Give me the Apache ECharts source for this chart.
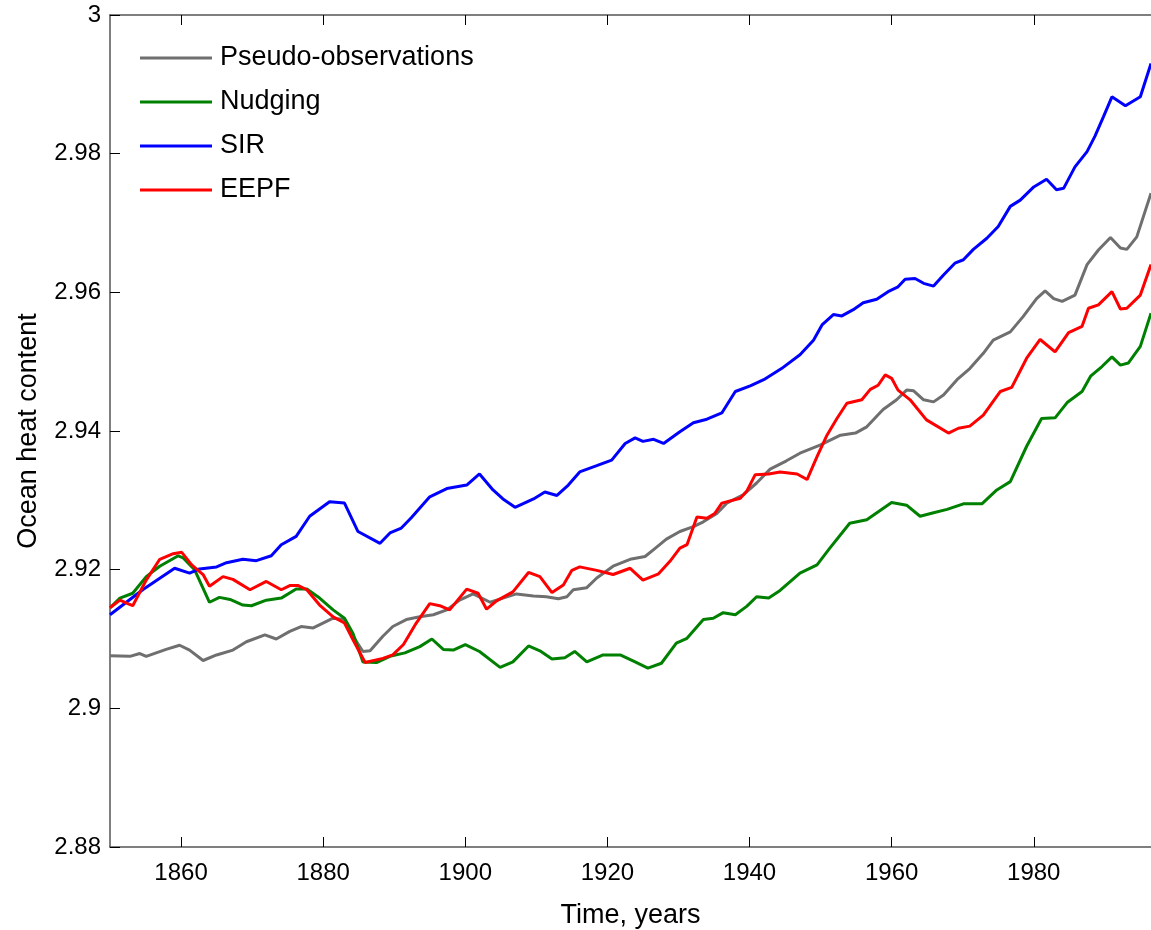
<!DOCTYPE html>
<html>
<head>
<meta charset="utf-8">
<script src="https://cdn.jsdelivr.net/npm/echarts@6/dist/echarts.min.js"></script>
<style>html,body{margin:0;padding:0;background:#fff}#c{width:1151px;height:930px}</style>
</head>
<body>
<div id="c"></div>
<script>
// Tick labels
const xTicks = [1860, 1880, 1900, 1920, 1940, 1960, 1980];
const seriesNames = ['Pseudo-observations', 'Nudging', 'SIR', 'EEPF'];

// [year, ocean heat content]
const pseudoObs = [[1850,2.9076],[1852.8,2.9075],[1854.2,2.9079],[1855.1,2.9075],[1857.9,2.9085],[1859.8,2.9091],[1861.2,2.9084],[1863.1,2.9069],[1865,2.9077],[1867.3,2.9084],[1869.2,2.9096],[1871.8,2.9106],[1873.4,2.9100],[1875.3,2.9111],[1876.9,2.9118],[1878.6,2.9116],[1881.4,2.9130],[1883,2.9128],[1884.2,2.9104],[1885.6,2.9082],[1886.6,2.9083],[1888.4,2.9104],[1889.8,2.9118],[1891.7,2.9128],[1893.6,2.9132],[1895.5,2.9135],[1897.4,2.9142],[1899.2,2.9156],[1901.1,2.9165],[1903.5,2.9153],[1905.3,2.9159],[1907.2,2.9165],[1909.6,2.9162],[1911.4,2.9161],[1913.1,2.9158],[1914.3,2.9161],[1915.2,2.9171],[1917.1,2.9174],[1918.5,2.9188],[1920.8,2.9205],[1923.2,2.9215],[1925.3,2.9219],[1926.5,2.9229],[1928.3,2.9244],[1930.2,2.9255],[1932.1,2.9262],[1933.5,2.9269],[1935.4,2.9281],[1936.8,2.9296],[1939.1,2.9308],[1941,2.9325],[1942.9,2.9345],[1945.2,2.9357],[1947.1,2.9368],[1950,2.9380],[1952.8,2.9394],[1954.9,2.9397],[1956.5,2.9406],[1958.8,2.9431],[1960.7,2.9445],[1962.1,2.9459],[1963.1,2.9458],[1964.5,2.9445],[1965.9,2.9442],[1967.3,2.9452],[1969.2,2.9474],[1971,2.9490],[1972.9,2.9512],[1974.3,2.9531],[1976.7,2.9543],[1978.5,2.9565],[1980.4,2.9591],[1981.6,2.9602],[1982.8,2.9591],[1984,2.9587],[1985.8,2.9596],[1987.5,2.9640],[1989.1,2.9661],[1990.8,2.9679],[1992.2,2.9664],[1993.1,2.9662],[1994.5,2.9680],[1996.5,2.9743]];

const nudging = [[1850,2.9145],[1851.4,2.9159],[1853.2,2.9166],[1855.1,2.9190],[1857,2.9205],[1859.6,2.9220],[1860.3,2.9217],[1861.9,2.9200],[1864,2.9153],[1865.4,2.9160],[1866.9,2.9157],[1868.7,2.9149],[1869.9,2.9148],[1872,2.9156],[1874.1,2.9159],[1876.2,2.9172],[1877.7,2.9172],[1879.5,2.9159],[1881.4,2.9142],[1883,2.9130],[1884.2,2.9108],[1885.6,2.9067],[1887.5,2.9066],[1889.4,2.9075],[1891.5,2.9080],[1893.6,2.9089],[1895.3,2.9100],[1896.9,2.9085],[1898.3,2.9084],[1900,2.9092],[1902,2.9082],[1904.9,2.9059],[1906.7,2.9067],[1908.9,2.9090],[1910.5,2.9083],[1912.2,2.9071],[1914,2.9073],[1915.4,2.9082],[1917.1,2.9067],[1919.4,2.9077],[1921.8,2.9077],[1923.9,2.9067],[1925.7,2.9058],[1927.6,2.9065],[1929.7,2.9094],[1931.2,2.9101],[1933.5,2.9128],[1934.9,2.9130],[1936.3,2.9138],[1938,2.9135],[1939.6,2.9147],[1941,2.9161],[1942.7,2.9159],[1944.3,2.9170],[1947.1,2.9195],[1949.5,2.9207],[1951.3,2.9231],[1954.1,2.9267],[1956.5,2.9272],[1960,2.9297],[1962.1,2.9293],[1964,2.9277],[1965.9,2.9282],[1967.8,2.9287],[1970.1,2.9295],[1972.7,2.9295],[1974.8,2.9315],[1976.7,2.9327],[1979,2.9378],[1981.1,2.9418],[1983,2.9419],[1984.7,2.9441],[1986.8,2.9457],[1988,2.9479],[1989.6,2.9493],[1991,2.9507],[1992.2,2.9495],[1993.3,2.9498],[1995,2.9522],[1996.5,2.9570]];

const sir = [[1850,2.9135],[1854.6,2.9171],[1859.1,2.9202],[1861.2,2.9195],[1862.6,2.9201],[1865,2.9204],[1866.4,2.9210],[1868.7,2.9215],[1870.6,2.9213],[1872.7,2.9220],[1874.1,2.9236],[1876.2,2.9248],[1878.1,2.9277],[1880.9,2.9298],[1883,2.9296],[1884.9,2.9255],[1888,2.9238],[1889.4,2.9253],[1891,2.9260],[1892.4,2.9275],[1895,2.9305],[1897.4,2.9317],[1900.2,2.9322],[1902,2.9338],[1903.9,2.9315],[1905.3,2.9302],[1907,2.9290],[1909.6,2.9302],[1911.2,2.9312],[1912.9,2.9307],[1914.5,2.9322],[1916.1,2.9341],[1918.5,2.9350],[1920.6,2.9358],[1922.5,2.9382],[1923.9,2.9390],[1925,2.9385],[1926.5,2.9388],[1927.9,2.9382],[1930.2,2.9399],[1932.1,2.9412],[1934,2.9417],[1936.1,2.9426],[1938,2.9457],[1940.1,2.9465],[1942,2.9474],[1944.5,2.9490],[1947.1,2.9510],[1949,2.9531],[1950.2,2.9553],[1951.8,2.9568],[1953,2.9566],[1954.6,2.9575],[1956,2.9585],[1957.9,2.9590],[1959.5,2.9601],[1960.9,2.9608],[1961.9,2.9619],[1963.3,2.9620],[1964.5,2.9613],[1965.9,2.9609],[1967.3,2.9625],[1968.9,2.9642],[1970.1,2.9647],[1971.5,2.9662],[1973.4,2.9678],[1975,2.9695],[1976.7,2.9724],[1978.1,2.9733],[1980,2.9752],[1981.8,2.9763],[1983.2,2.9748],[1984.2,2.9750],[1985.8,2.9781],[1987.5,2.9803],[1988.6,2.9825],[1989.8,2.9853],[1991,2.9882],[1992.9,2.9869],[1995,2.9882],[1996.5,2.9930]];

const eepf = [[1850,2.9145],[1851.4,2.9156],[1852.5,2.9151],[1853.2,2.9148],[1855.1,2.9185],[1857,2.9215],[1858.9,2.9223],[1860.1,2.9225],[1861.5,2.9207],[1863.1,2.9193],[1864,2.9176],[1865.9,2.9190],[1867.3,2.9186],[1869.7,2.9171],[1872,2.9183],[1874.1,2.9171],[1875.3,2.9177],[1876.5,2.9177],[1877.7,2.9171],[1879.5,2.9149],[1881.4,2.9132],[1883,2.9123],[1884.2,2.9099],[1885.9,2.9066],[1888.4,2.9072],[1889.8,2.9077],[1891.3,2.9092],[1893.1,2.9123],[1895,2.9151],[1896.4,2.9148],[1897.8,2.9142],[1900.2,2.9172],[1901.8,2.9166],[1903,2.9143],[1904.4,2.9155],[1906.7,2.9168],[1908.9,2.9196],[1910.5,2.9190],[1912.2,2.9167],[1913.8,2.9178],[1915,2.9199],[1916.1,2.9204],[1918.5,2.9199],[1920.8,2.9193],[1923.2,2.9202],[1925,2.9185],[1927.2,2.9194],[1928.8,2.9212],[1930.2,2.9231],[1931.2,2.9236],[1932.6,2.9276],[1934,2.9274],[1935.1,2.9281],[1936.1,2.9296],[1938.7,2.9303],[1939.6,2.9313],[1940.8,2.9337],[1942.7,2.9338],[1944.3,2.9341],[1946.7,2.9338],[1948.1,2.9330],[1949.5,2.9363],[1950.9,2.9394],[1952.3,2.9418],[1953.7,2.9440],[1955.8,2.9445],[1957,2.9460],[1958.1,2.9466],[1959.1,2.9481],[1960,2.9476],[1960.9,2.9459],[1962.6,2.9445],[1964.9,2.9416],[1968,2.9397],[1969.4,2.9404],[1971,2.9407],[1972.9,2.9423],[1975.3,2.9457],[1976.9,2.9463],[1979,2.9505],[1980.9,2.9532],[1983,2.9514],[1984.9,2.9542],[1986.8,2.9551],[1987.7,2.9577],[1989.1,2.9582],[1991,2.9601],[1992.2,2.9576],[1993.1,2.9577],[1995,2.9596],[1996.5,2.9640]];

const seriesData = [pseudoObs, nudging, sir, eepf];
const seriesColors = ['#6f6f6f', '#008000', '#0000ff', '#ff0000'];

const FONT = '"Liberation Sans", Arial, Helvetica, sans-serif';
const chart = echarts.init(document.getElementById('c'), null, {renderer: 'canvas'});

const xCommon = {
  type: 'value', min: 1850, max: 1996.5,
  axisLine: {show: true, lineStyle: {color: '#555', width: 1.5}},
  axisTick: {show: true, inside: true, length: 10, customValues: xTicks, lineStyle: {color: '#000', width: 1}},
  splitLine: {show: false}
};

chart.setOption({
  animation: false,
  backgroundColor: '#fff',
  grid: {left: 110, right: 0, top: 15, bottom: 83, containLabel: false, outerBoundsMode: 'none'},
  legend: {
    orient: 'vertical', left: 135, top: 38,
    itemWidth: 72, itemHeight: 3, itemGap: 14, icon: 'rect',
    data: seriesNames,
    textStyle: {fontFamily: FONT, fontSize: 27, color: '#000', lineHeight: 30, padding: [0, 0, 0, 3]}
  },
  xAxis: [
    Object.assign({}, xCommon, {
      position: 'bottom',
      name: 'Time, years', nameLocation: 'middle', nameGap: 55,
      nameTextStyle: {fontFamily: FONT, fontSize: 27, color: '#000'},
      axisLabel: {show: true, customValues: xTicks, margin: 14, fontFamily: FONT, fontSize: 24, color: '#000', formatter: v => String(v)}
    }),
    Object.assign({}, xCommon, {
      position: 'top',
      axisLabel: {show: false}
    })
  ],
  yAxis: {
    type: 'value', min: 2.88, max: 3, interval: 0.02,
    name: 'Ocean heat content', nameLocation: 'middle', nameGap: 68,
    nameTextStyle: {fontFamily: FONT, fontSize: 27, color: '#000'},
    axisLine: {show: true, lineStyle: {color: '#555', width: 1.5}},
    axisTick: {show: true, inside: true, length: 10, lineStyle: {color: '#000', width: 1}},
    axisLabel: {margin: 9, fontFamily: FONT, fontSize: 24, color: '#000', formatter: v => String(+v.toFixed(2))},
    splitLine: {show: false}
  },
  series: seriesNames.map((n, i) => ({
    name: n, type: 'line', data: seriesData[i], xAxisIndex: 0,
    showSymbol: false, symbol: 'none',
    lineStyle: {color: seriesColors[i], width: 3},
    itemStyle: {color: seriesColors[i]},
    z: 2 + i
  }))
});
</script>
</body>
</html>
